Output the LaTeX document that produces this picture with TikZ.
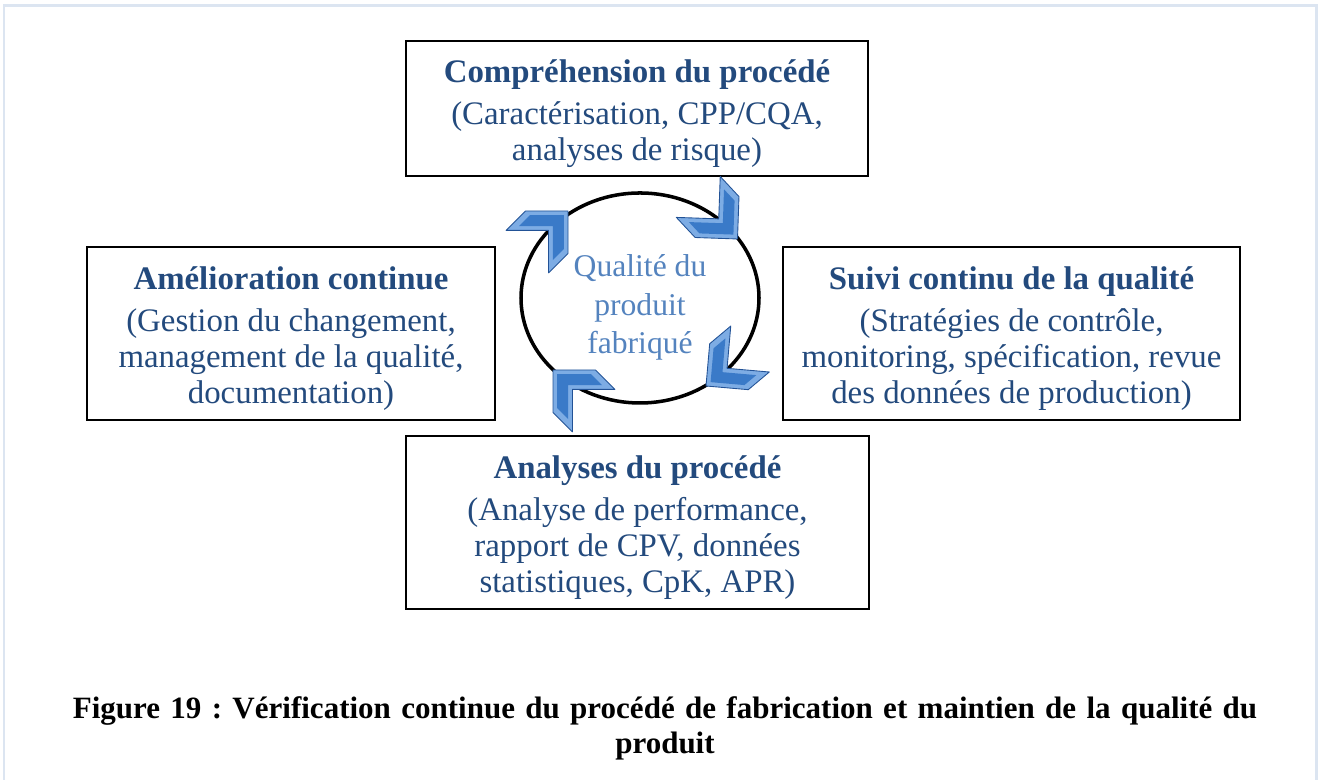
\documentclass[tikz,border=0pt]{standalone}
\usepackage{fontspec}
\setmainfont{Liberation Serif}
\usetikzlibrary{calc}

\definecolor{txtblue}{RGB}{35,74,125}
\definecolor{lightblue}{RGB}{84,131,190}
\definecolor{framegray}{RGB}{220,229,241}
\definecolor{chevfill}{RGB}{58,122,200}
\definecolor{chevdark}{RGB}{34,82,150}
\definecolor{chevlight}{RGB}{125,172,228}
\newcommand{\boxtitle}[1]{{\bfseries\rule{0pt}{19pt}#1}\\[3.7pt]}

\begin{document}
\begin{tikzpicture}[
	box/.style={draw,line width=1.2pt,align=center,text=txtblue,inner sep=0pt,
		font=\fontsize{18.7}{20.5}\selectfont},
	chevron/.pic={
		\filldraw[fill=chevlight,draw=chevdark,line width=.5pt,line join=round]
			(0,0)--(-.6,.6)--(-1.15,.6)--(-.55,0)--(-1.15,-.6)--(-.6,-.6)--cycle;
		\fill[chevfill](-.12,0)--(-.6,.48)--(-.91,.48)--(-.43,0)--(-.91,-.48)--(-.6,-.48)--cycle;
	}]
	\useasboundingbox (0,0) rectangle (26.4,15.6);
	\draw[framegray,line width=1.7pt](.08,-1) rectangle (26.32,15.48);

	\node[box,minimum width=9.24cm,minimum height=2.7cm] (comp) at (12.74,13.43)
		{\boxtitle{Compréhension du procédé}(Caractérisation, CPP/CQA,\\analyses de risque)};
	\node[box,minimum width=8.16cm,minimum height=3.46cm] (amel) at (5.82,8.93)
		{\boxtitle{Amélioration continue}(Gestion du changement,\\management de la qualité,\\documentation)};
	\node[box,minimum width=9.14cm,minimum height=3.46cm] (suivi) at (20.23,8.93)
		{\boxtitle{Suivi continu de la qualité}(Stratégies de contrôle,\\monitoring, spécification, revue\\des données de production)};
	\node[box,minimum width=9.26cm,minimum height=3.46cm] (anal) at (12.75,5.15)
		{\boxtitle{Analyses du procédé}(Analyse de performance,\\rapport de CPV, données\\statistiques, CpK, APR)};

	\draw[line width=2pt](12.8,9.64) ellipse (2.38 and 2.1);
	\node[align=center,text=lightblue,font=\fontsize{18}{22}\selectfont] (qual) at (12.8,9.45)
		{Qualité du\\produit\\fabriqué};

	\pic[rotate=45] at (11.36,11.38) {chevron};
	\pic[rotate=-47] at (14.75,10.82) {chevron};
	\pic[rotate=-140] at (14.12,7.88) {chevron};
	\pic[rotate=135] at (11.06,8.2) {chevron};

	\node[align=center,font=\fontsize{17.65}{20}\selectfont\bfseries\frenchspacing,text width=25.8cm] (capt) at (13.3,1.04)
		{Figure 19 : Vérification continue du procédé de fabrication et maintien de la qualité du\\produit};
\end{tikzpicture}
\end{document}
